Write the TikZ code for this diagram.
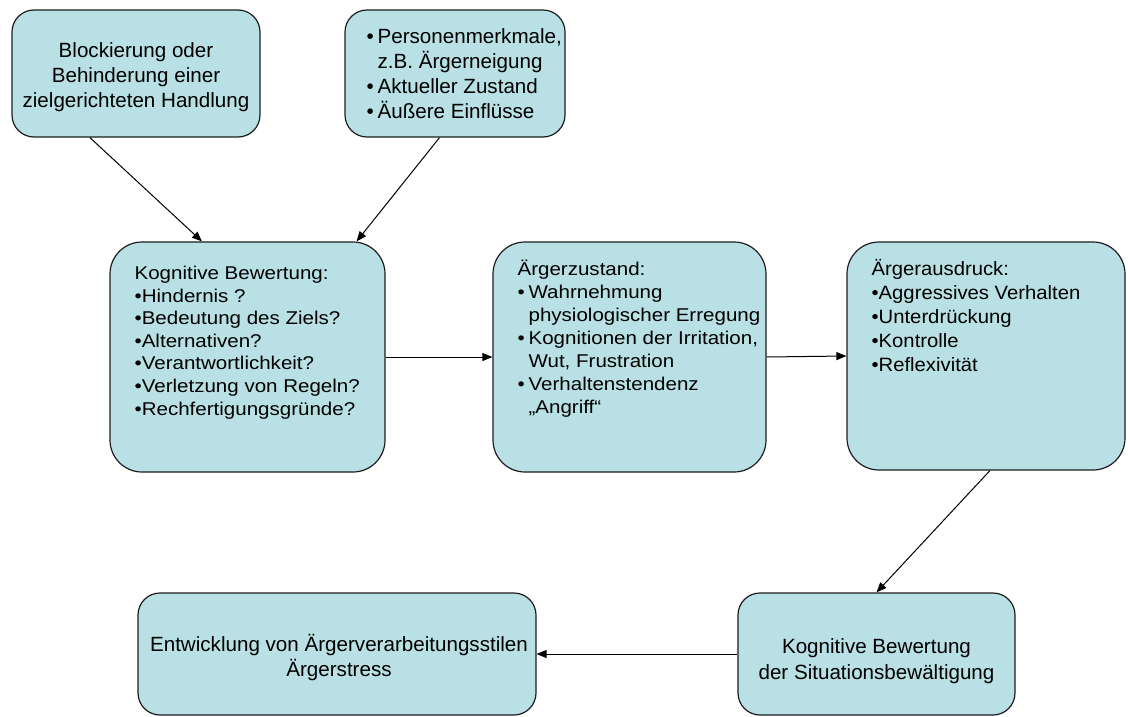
\documentclass[tikz,border=0pt]{standalone}
\usepackage{fontspec}
\setmainfont{Liberation Sans}
\newfontfamily\narrowfont{Liberation Sans}[FakeStretch=1.11]
\newfontfamily\midfont{Liberation Sans}[FakeStretch=1.05]
\usetikzlibrary{arrows.meta,calc}

\definecolor{boxfill}{RGB}{185,224,228}
\definecolor{boxline}{RGB}{30,30,30}

% bullet with hanging indent, and the indent for a continued line
\newcommand{\hangbul}[1]{\makebox[11pt][l]{•}#1}
\newcommand{\hangcont}{\hspace*{11pt}}

\tikzset{
  card/.style={draw=boxline, line width=1.2pt, fill=boxfill, rounded corners=#1, inner sep=0pt},
  card/.default=22pt,
  flow/.style={draw=black, line width=1pt, -{Triangle[length=10pt,width=8pt]}},
  bigtxt/.style={font=\fontsize{20.6}{25}\selectfont, align=center, inner sep=0pt},
  smalltxt/.style={font=\narrowfont\fontsize{18.5}{#1}\selectfont, align=left, anchor=north west, inner sep=0pt},
}

\begin{document}
\begin{tikzpicture}[x=1pt,y=-1pt]
\useasboundingbox (0,0) rectangle (1128,717);
\fill[white] (0,0) rectangle (1128,717);

% boxes
\node[card, minimum width=248pt, minimum height=127pt] (b1) at (136,73.5) {};
\node[card, minimum width=220pt, minimum height=127pt] (b2) at (455,73.5) {};
\node[card=32pt, minimum width=275pt, minimum height=230pt] (b3) at (247.5,357) {};
\node[card=32pt, minimum width=273pt, minimum height=230pt] (b4) at (629.5,357) {};
\node[card=32pt, minimum width=278pt, minimum height=228pt] (b5) at (986,356) {};
\node[card, minimum width=398pt, minimum height=122pt] (b6) at (337,654) {};
\node[card, minimum width=277pt, minimum height=122pt] (b7) at (876.5,654) {};

% texts
\node[bigtxt] (t1) at (136,77.5) {Blockierung oder\\Behinderung einer\\zielgerichteten Handlung};
\node[bigtxt, align=left, anchor=north west] (t2) at ($(b2.north west)+(22,19)$)
  {\hangbul{Personenmerkmale,}\\\hangcont z.B. Ärgerneigung\\\hangbul{Aktueller Zustand}\\\hangbul{Äußere Einflüsse}};
\node[smalltxt=22.6] (t3) at ($(b3.north west)+(25,24.5)$)
  {Kognitive Bewertung:\\•Hindernis ?\\•Bedeutung des Ziels?\\•Alternativen?\\•Verantwortlichkeit?\\•Verletzung von Regeln?\\•Rechfertigungsgründe?};
\node[smalltxt=23] (t4) at ($(b4.north west)+(25,18.7)$)
  {Ärgerzustand:\\\hangbul{Wahrnehmung}\\\hangcont physiologischer Erregung\\\hangbul{Kognitionen der Irritation,}\\\hangcont Wut, Frustration\\\hangbul{Verhaltenstendenz}\\\hangcont „Angriff“};
\node[smalltxt, font=\midfont\fontsize{19.3}{24}\selectfont] (t5) at ($(b5.north west)+(25,18)$)
  {Ärgerausdruck:\\•Aggressives Verhalten\\•Unterdrückung\\•Kontrolle\\•Reflexivität};
\node[bigtxt] (t6) at (339,657.7) {Entwicklung von Ärgerverarbeitungsstilen\\Ärgerstress};
\node[bigtxt, font=\fontsize{20.6}{26}\selectfont] (t7) at (876.5,660.7) {Kognitive Bewertung\\der Situationsbewältigung};

% connector end points on the box edges
\coordinate (s1) at ($(b1.south west)!0.315!(b1.south east)$);
\coordinate (e1) at ($(b3.north west)!0.335!(b3.north east)$);
\coordinate (s2) at ($(b2.south west)!0.43!(b2.south east)$);
\coordinate (e2) at ($(b3.north west)!0.895!(b3.north east)$);
\coordinate (s5) at ($(b5.south west)!0.514!(b5.south east)$);

% connectors
\draw[flow] (s1) -- (e1);
\draw[flow] (s2) -- (e2);
\draw[flow] (b3.east) -- (b4.west);
\draw[flow] (b4.east) -- (b5.west);
\draw[flow] (s5) -- (b7.north);
\draw[flow] (b7.west) -- (b6.east);
\end{tikzpicture}
\end{document}
